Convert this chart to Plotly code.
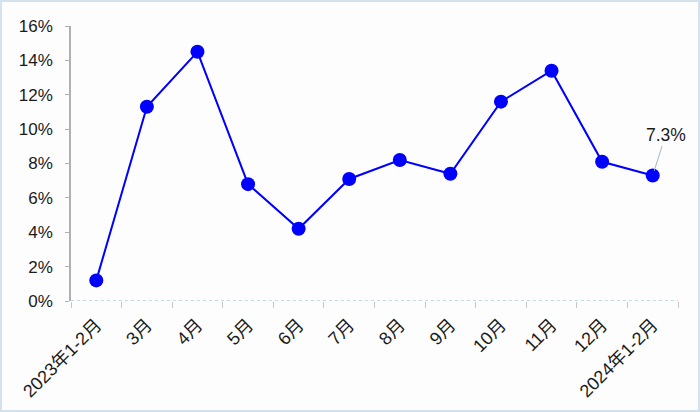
import plotly.graph_objects as go

categories = ["2023年1-2月", "3月", "4月", "5月", "6月", "7月", "8月", "9月",
              "10月", "11月", "12月", "2024年1-2月"]
values = [1.2, 11.3, 14.5, 6.8, 4.2, 7.1, 8.2, 7.4, 11.6, 13.4, 8.1, 7.3]
y_ticks = [0, 2, 4, 6, 8, 10, 12, 14, 16]
y_labels = [f"{v}%" for v in y_ticks]
last_label = "7.3%"

font_family = "Arial, Liberation Sans, Noto Sans CJK SC, sans-serif"

fig = go.Figure()
fig.add_trace(go.Scatter(
    x=categories, y=values, mode="lines+markers",
    line=dict(color="#0000ff", width=2),
    marker=dict(color="#0000ff", size=14),
    hoverinfo="x+y", showlegend=False,
))

fig.add_annotation(
    x=categories[-1], y=values[-1], text=last_label,
    showarrow=True, arrowhead=0, arrowwidth=1, arrowcolor="#9fb8c8",
    ax=13, ay=-41, standoff=5,
    font=dict(size=17.5, color="#1a1a1a", family=font_family),
)

# dotted x-axis baseline
fig.add_shape(type="line", xref="paper", yref="y", x0=0, x1=1, y0=0, y1=0,
              line=dict(color="#a8d4e4", width=1.5, dash="dot"), layer="above")

# faint outer border
fig.add_shape(type="rect", xref="paper", yref="paper",
              x0=-70/607, x1=1+21/607, y0=-110/275, y1=1+25/275,
              line=dict(color="#d4e2ee", width=2), layer="below")

fig.update_layout(
    width=700, height=412,
    margin=dict(l=71, r=22, t=26, b=111, autoexpand=False),
    paper_bgcolor="#fdfdfe", plot_bgcolor="#fdfdfe",
    font=dict(family=font_family, size=17, color="#1a1a1a"),
)
fig.update_xaxes(
    type="category", tickson="boundaries", ticks="outside", ticklen=6,
    tickcolor="#c0c8cc", showline=False, showgrid=False, tickangle=-45,
    tickfont=dict(size=18), range=[-0.5, 11.5], automargin=False,
    ticklabelstandoff=9,
)
fig.update_yaxes(
    range=[0, 16], tickvals=y_ticks, ticktext=y_labels, ticks="outside",
    ticklen=4, tickcolor="#b0b0b0", showline=True, linecolor="#b0b0b0",
    linewidth=1.5, showgrid=False, zeroline=False, tickfont=dict(size=17),
    automargin=False, ticklabelstandoff=9,
)

fig.write_html("out.html", config={"displayModeBar": False},
               post_script="document.body.style.margin='0';document.body.style.padding='0';")
